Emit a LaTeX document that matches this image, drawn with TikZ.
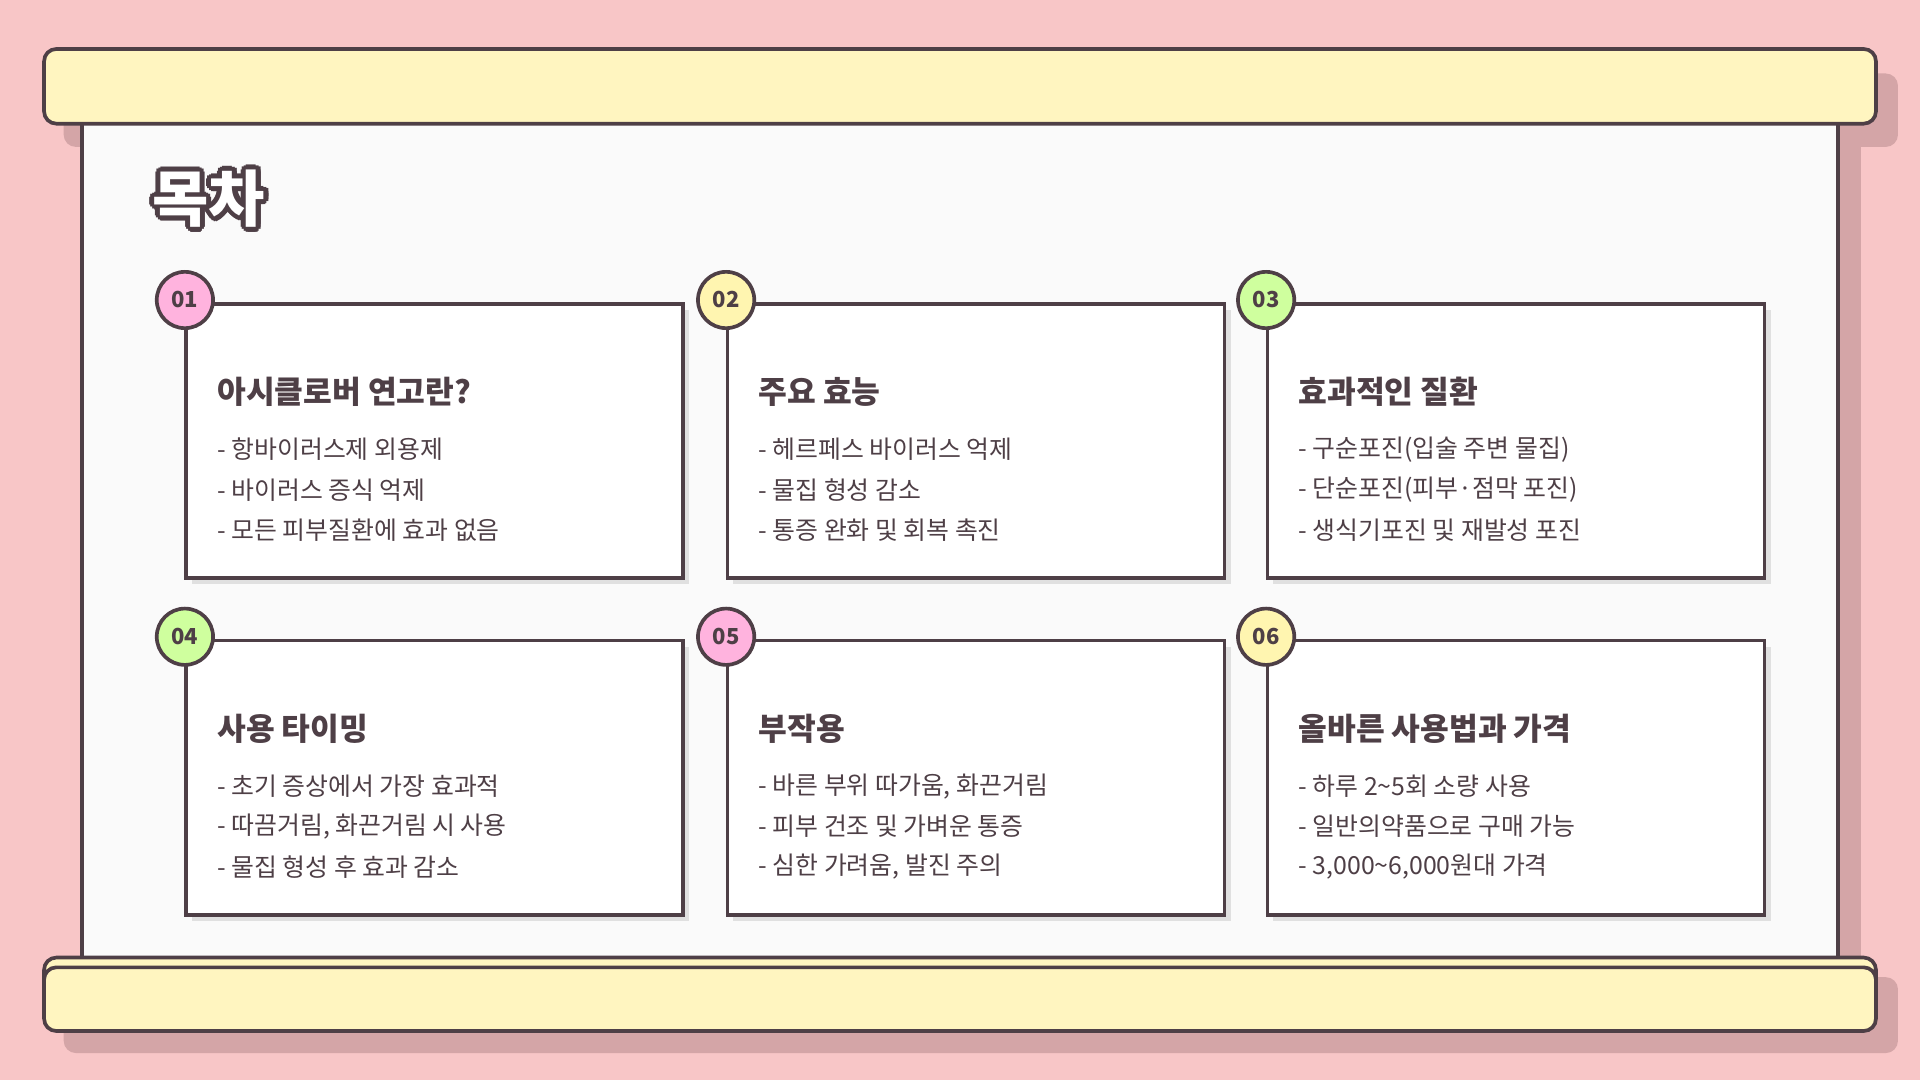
\documentclass[tikz,border=0pt]{standalone}
\usepackage{fontspec}
\usetikzlibrary{calc}
\setmainfont{Noto Sans CJK KR}
\newfontfamily\kr{Noto Sans CJK KR}
\begin{document}
\begin{tikzpicture}[x=1pt,y=-1pt,
  line width=3pt,
  bar/.style={draw=ink,fill=barfill,rounded corners=10pt},
  card/.style={draw=ink,fill=white,line width=3pt},
  num/.style={circle,draw=ink,line width=3pt,minimum size=46pt,inner sep=0pt,font=\kr\bfseries\fontsize{18}{18}\selectfont,text=ink},
  ttl/.style={anchor=west,font=\kr\bfseries\fontsize{25.5}{25.5}\selectfont,text=ink,inner sep=0pt},
  itm/.style={anchor=west,font=\kr\fontsize{20.3}{20.3}\selectfont,text=ink,inner sep=0pt}]
\definecolor{ink}{HTML}{4E3F46}
\definecolor{bg}{HTML}{F8C6C7}
\definecolor{barfill}{HTML}{FFF5C0}
\definecolor{shad}{HTML}{D4A5A7}
\definecolor{cpink}{HTML}{FFB3DE}
\definecolor{cyel}{HTML}{FFF5B0}
\definecolor{cgreen}{HTML}{CFFF9E}
\fill[bg] (0,0) rectangle (1568,882);
\useasboundingbox (0,0) rectangle (1568,882);
% shadows
\fill[shad,rounded corners=10pt] (52,60) rectangle (1550,120);
\fill[shad] (80,110) rectangle (1520,800);
\fill[shad,rounded corners=10pt] (52,798) rectangle (1550,860);
% paper
\draw[draw=ink,fill=white!98!black] (67,95) rectangle (1501,790);
% bars
\draw[bar] (36,40) rectangle (1532,101);
\draw[bar] (36,782) rectangle (1532,834);
\draw[bar] (36,790) rectangle (1532,842);
% title with outline
\foreach \a in {0,30,...,330}{
  \node[font=\kr\bfseries\fontsize{50}{50}\selectfont,text=ink,anchor=west,inner sep=0pt] at ($(123,162)+(\a:4)$) {목차};}
\node[font=\kr\bfseries\fontsize{50}{50}\selectfont,text=ink,anchor=west,inner sep=0pt] at (124,166) {목차};
\node (title) [font=\kr\bfseries\fontsize{50}{50}\selectfont,text=white,anchor=west,inner sep=0pt] at (123,162) {목차};
% cards
\foreach \x/\y/\n/\c/\t/\i/\j/\k in {
 152/248/01/cpink/아시클로버 연고란?/- 항바이러스제 외용제/- 바이러스 증식 억제/- 모든 피부질환에 효과 없음,
 594/248/02/cyel/주요 효능/- 헤르페스 바이러스 억제/- 물집 형성 감소/- 통증 완화 및 회복 촉진,
 1035/248/03/cgreen/효과적인 질환/- 구순포진(입술 주변 물집)/- 단순포진(피부·점막 포진)/- 생식기포진 및 재발성 포진,
 152/523/04/cgreen/사용 타이밍/- 초기 증상에서 가장 효과적/- 따끔거림{,} 화끈거림 시 사용/- 물집 형성 후 효과 감소,
 594/523/05/cpink/부작용/- 바른 부위 따가움{,} 화끈거림/- 피부 건조 및 가벼운 통증/- 심한 가려움{,} 발진 주의,
 1035/523/06/cyel/올바른 사용법과 가격/- 하루 2\textasciitilde5회 소량 사용/- 일반의약품으로 구매 가능/- 3{,}000\textasciitilde6{,}000원대 가격}{
  \fill[black!12] (\x+5,\y+5) rectangle (\x+411,\y+229);
  \draw[card] (\x,\y) rectangle (\x+406,\y+224);
  \node[num,fill=\c] (n\n) at (\x-1,\y-3) {\n};
  \node[ttl] (t\n) at (\x+24,\y+72) {\t};
  \node[itm] (a\n) at (\x+24,\y+119) {\i};
  \node[itm] (b\n) at (\x+24,\y+152) {\j};
  \node[itm] (c\n) at (\x+24,\y+185) {\k};
}
\end{tikzpicture}
\end{document}
